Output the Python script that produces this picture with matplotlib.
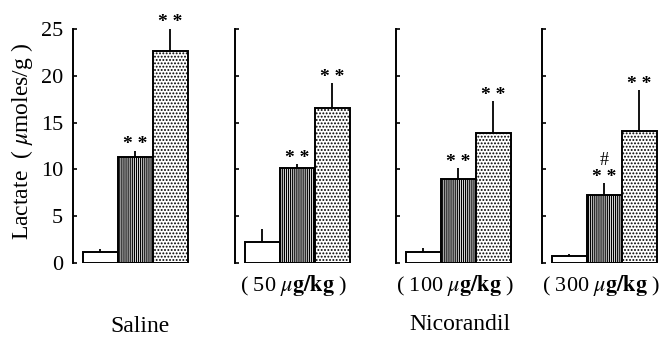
import numpy as np
import matplotlib
matplotlib.use("Agg")
import matplotlib.pyplot as plt

plt.rcParams['font.family'] = ['Liberation Serif', 'DejaVu Serif']
plt.rcParams['mathtext.fontset'] = 'stix'
plt.rcParams['hatch.linewidth'] = 0.9

# data (lactate, umoles/g)
panel_labels = ['', r'( 50 $\mu\mathbf{g/kg}$ )', r'( 100 $\mu\mathbf{g/kg}$ )',
                r'( 300 $\mu\mathbf{g/kg}$ )']
means = [[1.15, 11.3, 22.6],
         [2.2, 10.2, 16.6],
         [1.2, 9.0, 13.9],
         [0.75, 7.3, 14.1]]
errs = [[0.35, 0.7, 2.5],
        [1.4, 0.4, 2.6],
        [0.4, 1.1, 3.4],
        [0.2, 1.2, 4.4]]
stars = [['', '* *', '* *'],
         ['', '* *', '* *'],
         ['', '* *', '* *'],
         ['', '* *', '* *']]
hash_marks = [['', '', ''],
              ['', '', ''],
              ['', '', ''],
              ['', '#', '']]
yticks = [0, 5, 10, 15, 20, 25]

hatches = ['', '|' * 8, '.' * 5]

W, H = 666, 338
fig = plt.figure(figsize=(W / 100, H / 100), dpi=100)

axis_x = [73, 235, 396, 542]   # pixel position of each y axis
ax_w = 118
y0, y1 = 263, 29

for i in range(4):
    ax = fig.add_axes([axis_x[i] / W, (H - y0) / H, ax_w / W, (y0 - y1) / H])
    x = np.arange(3)
    ax.bar(x, means[i], width=1.0, color='white', edgecolor='black',
           linewidth=1.4, hatch=hatches, zorder=2)
    ax.errorbar(x, means[i], yerr=[np.zeros(3), errs[i]], fmt='none',
                ecolor='black', elinewidth=1.3, capsize=0, zorder=1)
    for j in range(3):
        top = means[i][j] + errs[i][j]
        if stars[i][j]:
            ax.text(x[j], top - 0.3, stars[i][j], ha='center', va='bottom',
                    fontsize=14, fontweight='bold', clip_on=False)
        if hash_marks[i][j]:
            ax.text(x[j], top + 1.5, hash_marks[i][j], ha='center', va='bottom',
                    fontsize=13, clip_on=False)
    ax.set_xlim(-0.78, 2.6)
    ax.set_ylim(0, 25)
    ax.set_yticks(yticks)
    ax.set_xticks([])
    for s in ['top', 'right', 'bottom']:
        ax.spines[s].set_visible(False)
    ax.spines['left'].set_linewidth(1.4)
    ax.tick_params(axis='y', direction='in', length=3, width=1.2, pad=7,
                   labelsize=16)
    if i > 0:
        ax.set_yticklabels([])
        ax.set_xlabel(panel_labels[i], fontsize=16, labelpad=7)

fig.text(22 / W, 1 - 141 / H, r'Lactate  ( $\mu$moles/g )', rotation=90,
         ha='center', va='center', fontsize=17)
fig.text(140 / W, 1 - 326 / H, 'Saline', ha='center', va='center', fontsize=17)
fig.text(460 / W, 1 - 324 / H, 'Nicorandil', ha='center', va='center', fontsize=17)

fig.savefig('out.png', dpi=100)
